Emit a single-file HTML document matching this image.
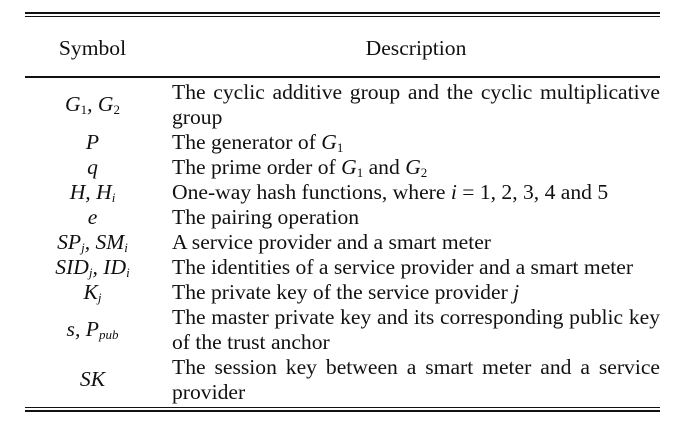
<!DOCTYPE html>
<html><head><meta charset="utf-8"><style>
body{margin:0;background:#fff;width:682px;height:429px;position:relative;overflow:hidden;font-family:"Liberation Serif","Times New Roman",serif;color:#111;font-size:21.6px}
.l{position:absolute;left:25px;width:635px;background:#111}
.t{position:absolute;line-height:25px;white-space:nowrap}
.s{left:25px;width:135px;text-align:center;font-style:italic}
.d{left:172px;width:488px}
.j{text-align:justify;text-align-last:justify}
sub{font-size:13px;vertical-align:-3px;line-height:0}
.n{font-style:normal}
</style></head><body>
<div class="l" style="top:12px;height:2px"></div>
<div class="l" style="top:16px;height:1px"></div>
<div class="t s" style="top:36px;font-style:normal">Symbol</div>
<div class="t d" style="top:36px;text-align:center">Description</div>
<div class="l" style="top:76px;height:2px"></div>

<div class="t s" style="top:92px">G<sub class="n">1</sub>, G<sub class="n">2</sub></div>
<div class="t d j" style="top:80px">The cyclic additive group and the cyclic multiplicative</div>
<div class="t d" style="top:105px">group</div>

<div class="t s" style="top:130px">P</div>
<div class="t d" style="top:130px">The generator of <i>G</i><sub>1</sub></div>

<div class="t s" style="top:155px">q</div>
<div class="t d" style="top:155px">The prime order of <i>G</i><sub>1</sub> and <i>G</i><sub>2</sub></div>

<div class="t s" style="top:180px">H, H<sub>i</sub></div>
<div class="t d" style="top:180px">One-way hash functions, where <i>i</i> = 1, 2, 3, 4 and 5</div>

<div class="t s" style="top:205px">e</div>
<div class="t d" style="top:205px">The pairing operation</div>

<div class="t s" style="top:230px">SP<sub>j</sub>, SM<sub>i</sub></div>
<div class="t d" style="top:230px">A service provider and a smart meter</div>

<div class="t s" style="top:255px">SID<sub>j</sub>, ID<sub>i</sub></div>
<div class="t d" style="top:255px">The identities of a service provider and a smart meter</div>

<div class="t s" style="top:280px">K<sub>j</sub></div>
<div class="t d" style="top:280px">The private key of the service provider <i>j</i></div>

<div class="t s" style="top:317px">s, P<sub>pub</sub></div>
<div class="t d j" style="top:305px">The master private key and its corresponding public key</div>
<div class="t d" style="top:330px">of the trust anchor</div>

<div class="t s" style="top:367px">SK</div>
<div class="t d j" style="top:355px">The session key between a smart meter and a service</div>
<div class="t d" style="top:380px">provider</div>

<div class="l" style="top:407px;height:1px"></div>
<div class="l" style="top:410px;height:2px"></div>
</body></html>
